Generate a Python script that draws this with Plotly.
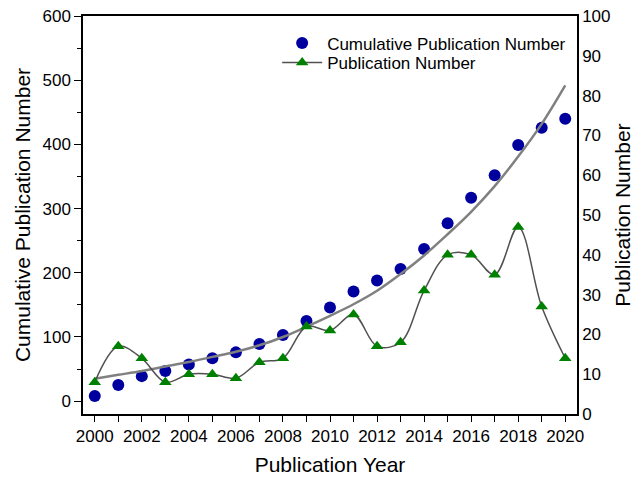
import plotly.graph_objects as go

years = list(range(2000, 2021))
cumulative = [8, 25, 39, 47, 57, 67, 76, 89, 103, 125, 146, 171, 188, 206, 237, 277, 317, 352, 399, 426, 440]
publications = [8, 17, 14, 8, 10, 10, 9, 13, 14, 22, 21, 25, 17, 18, 31, 40, 40, 35, 47, 27, 14]
fit_curve = [35, 41, 47, 54, 61, 69, 77, 87, 100, 116, 133, 151, 172, 198, 227, 260, 295, 335, 381, 432, 492]

FONT = "Liberation Sans, Arial, sans-serif"

fig = go.Figure()
fig.add_trace(go.Scatter(
    x=years, y=cumulative, mode="markers", name="Cumulative Publication Number",
    marker=dict(symbol="circle", size=12, color="#00009E"), legend="legend",
))
fig.add_trace(go.Scatter(
    x=years, y=fit_curve, mode="lines", showlegend=False, hoverinfo="skip",
    line=dict(color="#808080", width=2.5, shape="spline", smoothing=1.0),
))
fig.add_trace(go.Scatter(
    x=years, y=publications, mode="lines+markers", name="Publication Number", yaxis="y2",
    line=dict(color="#505050", width=1.5, shape="spline", smoothing=1.0),
    marker=dict(symbol="triangle-up", size=11, color="#008000"), legend="legend2",
))

leg_common = dict(xanchor="left", yanchor="top", bgcolor="rgba(0,0,0,0)",
                  font=dict(size=17), itemwidth=40)

fig.update_layout(
    width=640, height=477,
    margin=dict(l=83, r=63, t=16, b=63),
    paper_bgcolor="white", plot_bgcolor="white",
    font=dict(family=FONT, size=17, color="black"),
    showlegend=True,
    legend=dict(x=0.393, y=0.976, **leg_common),
    legend2=dict(x=0.393, y=0.927, **leg_common),
    xaxis=dict(
        range=[1999.5, 2020.5], dtick=2, tick0=2000, automargin=False,
        showline=True, linecolor="black", linewidth=1.5, mirror=True,
        ticks="outside", ticklen=6, tickwidth=1.2, tickcolor="black",
        minor=dict(dtick=1, tick0=2000, ticks="outside", ticklen=6, tickwidth=1.2, tickcolor="black"),
        showgrid=False, zeroline=False,
        title=dict(text="Publication Year", font=dict(size=21), standoff=12),
        tickfont=dict(size=17),
    ),
    yaxis=dict(
        range=[-20, 600], dtick=100, tick0=0, automargin=False,
        showline=True, linecolor="black", linewidth=1.5,
        ticks="outside", ticklen=7, tickwidth=1.2, tickcolor="black",
        minor=dict(dtick=50, tick0=0, ticks="outside", ticklen=4, tickwidth=1.2, tickcolor="black"),
        showgrid=False, zeroline=False,
        title=dict(text="Cumulative Publication Number", font=dict(size=21), standoff=6),
        tickfont=dict(size=17),
    ),
    yaxis2=dict(
        range=[0, 100], dtick=10, tick0=0, overlaying="y", side="right", automargin=False,
        showline=True, linecolor="black", linewidth=1.5,
        ticks="", showgrid=False, zeroline=False,
        title=dict(text="Publication Number", font=dict(size=21), standoff=6),
        tickfont=dict(size=17),
    ),
)

fig.write_html("out.html", config={"displayModeBar": False},
               post_script="document.body.style.margin='0';document.body.style.padding='0';")
